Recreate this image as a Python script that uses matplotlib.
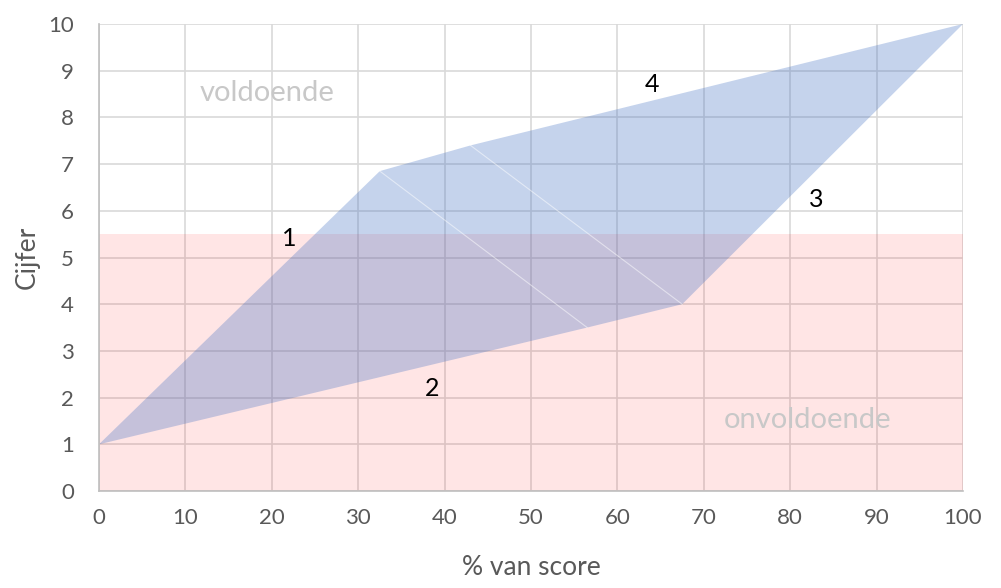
import matplotlib.pyplot as plt
import numpy as np

plt.rcParams['font.family'] = ['Lato', 'DejaVu Sans']

# corners of the blue area (% score, grade)
area_x = [0, 32.5, 43, 100, 67.5, 56.5]
area_y = [1, 6.85, 7.4, 10, 4.0, 3.5]
# faint seams inside the area
seam1_x = [32.5, 56.5]
seam1_y = [6.85, 3.5]
seam2_x = [43, 67.5]
seam2_y = [7.4, 4.0]

# band for "onvoldoende"
pass_mark = 5.5

labels = ['1', '2', '3', '4']
label_x = [22, 38.5, 83, 64]
label_y = [5.4, 2.2, 6.25, 8.7]

fig = plt.figure(figsize=(10.01, 5.88), dpi=100)
ax = fig.add_axes([99/1001, 97/588, 864/1001, 467/588])

ax.fill_between([0, 100], 0, pass_mark, color='#ff0000', alpha=0.1, lw=0, zorder=1)
ax.fill(area_x, area_y, color='#4472c4', alpha=0.31, lw=0, zorder=2)
ax.plot(seam1_x, seam1_y, color='white', lw=0.8, alpha=0.5, zorder=3)
ax.plot(seam2_x, seam2_y, color='white', lw=0.8, alpha=0.5, zorder=3)

for t, x, y in zip(labels, label_x, label_y):
    ax.text(x, y, t, fontsize=18, color='black', ha='center', va='center', zorder=4)

ax.text(19.4, 8.52, 'voldoende', fontsize=21, color='#c8c8c8', ha='center', va='center', zorder=4)
ax.text(82, 1.52, 'onvoldoende', fontsize=21, color='#c8c8c8', ha='center', va='center', zorder=4)

ax.set_xlim(0, 100)
ax.set_ylim(0, 10)
ax.set_xticks(range(0, 101, 10))
ax.set_yticks(range(0, 11, 1))
ax.grid(True, color='#d9d9d9', lw=1.2, zorder=0)
ax.set_axisbelow(True)
ax.tick_params(length=0, labelsize=16, labelcolor='#595959', pad=12)
ax.tick_params(axis='y', pad=18)
for s in ['top', 'right']:
    ax.spines[s].set_visible(False)
ax.spines['left'].set_color('#bfbfbf')
ax.spines['bottom'].set_color('#bfbfbf')
ax.spines['left'].set_linewidth(1.2)
ax.spines['bottom'].set_linewidth(1.2)

ax.set_xlabel('% van score', fontsize=19, color='#595959', labelpad=20)
ax.set_ylabel('Cijfer', fontsize=19, color='#595959', labelpad=6)

plt.savefig('out.png', dpi=100)
